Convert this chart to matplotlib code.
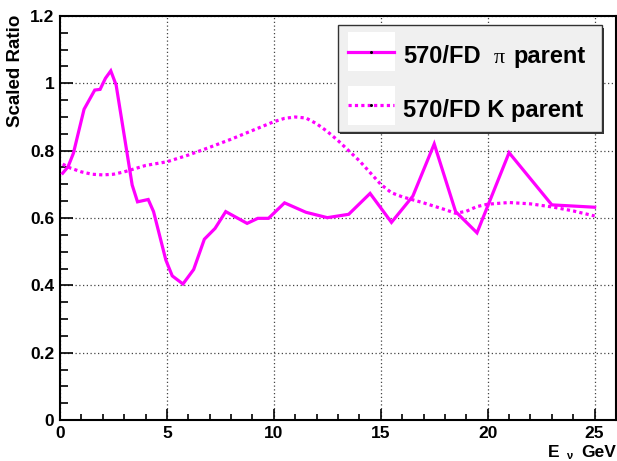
import matplotlib
matplotlib.use("Agg")
import matplotlib.pyplot as plt
from matplotlib.patches import Rectangle
from matplotlib.lines import Line2D
from matplotlib.ticker import MultipleLocator, FixedLocator

# Ratio of near (570 m) to far detector flux, split by neutrino parent
pi_energy = [0.125, 0.375, 0.625, 1.125, 1.625, 1.875, 2.125, 2.375, 2.625,
             3.375, 3.625, 4.125, 4.375, 4.95, 5.25, 5.75, 6.25, 6.75, 7.25,
             7.75, 8.75, 9.25, 9.75, 10.5, 11.5, 12.5, 13.5, 14.5, 15.5,
             16.5, 17.5, 18.5, 19.5, 21.0, 23.0, 25.0]
pi_ratio = [0.733, 0.752, 0.792, 0.923, 0.980, 0.982, 1.015, 1.037, 0.995,
            0.698, 0.648, 0.655, 0.619, 0.475, 0.428, 0.404, 0.447, 0.537,
            0.569, 0.619, 0.584, 0.599, 0.599, 0.645, 0.617, 0.601, 0.611,
            0.673, 0.587, 0.665, 0.820, 0.619, 0.556, 0.794, 0.639, 0.632]

k_energy = [0.125, 0.5, 1, 1.5, 2, 2.5, 3, 4, 5, 6, 7, 8, 9, 10, 10.5, 11,
            11.5, 12, 12.5, 13, 13.5, 14, 14.5, 15, 15.5, 16, 17, 18, 18.5,
            19, 19.5, 20, 21, 22, 23, 24, 25]
k_ratio = [0.760, 0.748, 0.737, 0.730, 0.728, 0.730, 0.737, 0.756, 0.767,
           0.787, 0.810, 0.834, 0.860, 0.886, 0.896, 0.900, 0.897, 0.880,
           0.857, 0.830, 0.800, 0.770, 0.735, 0.700, 0.675, 0.663, 0.645,
           0.625, 0.614, 0.620, 0.634, 0.641, 0.646, 0.642, 0.633, 0.621,
           0.606]

x_ticks = [0, 5, 10, 15, 20, 25]
y_ticks = [0, 0.2, 0.4, 0.6, 0.8, 1.0, 1.2]
y_tick_labels = ["0", "0.2", "0.4", "0.6", "0.8", "1", "1.2"]
legend_labels = ["570/FD", "\u03c0", "parent", "570/FD K parent"]

W, H = 617, 461
MAGENTA = "#ff00ff"
BOLD = dict(family="Liberation Sans", weight="bold")


def fx(px):
    return px / W


def fy(py):
    return 1 - py / H


fig = plt.figure(figsize=(W / 100, H / 100), dpi=100)
ax = fig.add_axes([fx(60), fy(420), fx(616) - fx(60), fy(16) - fy(420)])

ax.plot(pi_energy, pi_ratio, color=MAGENTA, lw=2.3, solid_joinstyle="miter", zorder=3)
ax.plot(k_energy, k_ratio, color=MAGENTA, lw=2.3, dashes=(1, 1), zorder=3)

ax.set_xlim(0, 26)
ax.set_ylim(0, 1.2)
ax.xaxis.set_major_locator(FixedLocator(x_ticks))
ax.xaxis.set_minor_locator(MultipleLocator(1))
ax.yaxis.set_major_locator(FixedLocator(y_ticks))
ax.yaxis.set_minor_locator(MultipleLocator(0.05))
ax.set_xticklabels([str(t) for t in x_ticks], fontsize=12.5, **BOLD)
ax.set_yticklabels(y_tick_labels, fontsize=12.5, **BOLD)

ax.tick_params(axis="both", which="both", direction="in", top=False, right=False,
               width=1.2, color="black")
ax.tick_params(axis="x", which="major", length=8, pad=4)
ax.tick_params(axis="x", which="minor", length=4.5)
ax.tick_params(axis="y", which="major", length=9, pad=4)
ax.tick_params(axis="y", which="minor", length=6)

ax.grid(True, which="major", color="#444444", lw=0.9, linestyle=(0, (1, 2)))
ax.set_axisbelow(True)
for side in ax.spines.values():
    side.set_linewidth(1.5)
    side.set_color("black")

# Axis titles
fig.text(fx(16), fy(15), "Scaled Ratio", rotation=90, ha="center", va="top",
         fontsize=13.5, **BOLD)
fig.text(fx(548), fy(457), "E", ha="left", va="baseline", fontsize=12.5, **BOLD)
fig.text(fx(569), fy(459), "\u03bd", ha="center", va="baseline", fontsize=8, **BOLD)
fig.text(fx(616), fy(457), "GeV", ha="right", va="baseline", fontsize=12.5, **BOLD)

# Legend box with shadow
fig.patches.append(Rectangle((fx(340), fy(134)), fx(602) - fx(338), fy(25) - fy(131),
                             transform=fig.transFigure, facecolor="#333333",
                             edgecolor="none", zorder=5))
fig.patches.append(Rectangle((fx(338), fy(131.5)), fx(601.5) - fx(338), fy(25) - fy(131.5),
                             transform=fig.transFigure, facecolor="#f0f0f0",
                             edgecolor="#333333", lw=1.0, zorder=6))
for top, bot in [(32.5, 71), (86.5, 125)]:
    fig.patches.append(Rectangle((fx(347.5), fy(bot)), fx(395) - fx(347.5), fy(top) - fy(bot),
                                 transform=fig.transFigure, facecolor="white",
                                 edgecolor="none", zorder=7))
fig.lines.append(Line2D([fx(348), fx(394)], [fy(52.3), fy(52.3)], transform=fig.transFigure,
                        color=MAGENTA, lw=2.3, zorder=8))
fig.lines.append(Line2D([fx(348), fx(394)], [fy(105), fy(105)], transform=fig.transFigure,
                        color=MAGENTA, lw=2.3, dashes=(1, 1), zorder=8))
for yy in (52.3, 105):
    fig.lines.append(Line2D([fx(371)], [fy(yy)], transform=fig.transFigure, marker="o",
                            markersize=1.2, color="black", lw=0, zorder=9))

fig.text(fx(403), fy(63), legend_labels[0], ha="left", va="baseline", fontsize=17,
         zorder=10, **BOLD)
fig.text(fx(499.5), fy(63), legend_labels[1], ha="center", va="baseline", fontsize=16,
         family="Liberation Serif", zorder=10)
fig.text(fx(513), fy(63), legend_labels[2], ha="left", va="baseline", fontsize=17,
         zorder=10, **BOLD)
fig.text(fx(403), fy(116.5), legend_labels[3], ha="left", va="baseline", fontsize=17,
         zorder=10, **BOLD)

fig.savefig("out.png", dpi=100, facecolor="white")
